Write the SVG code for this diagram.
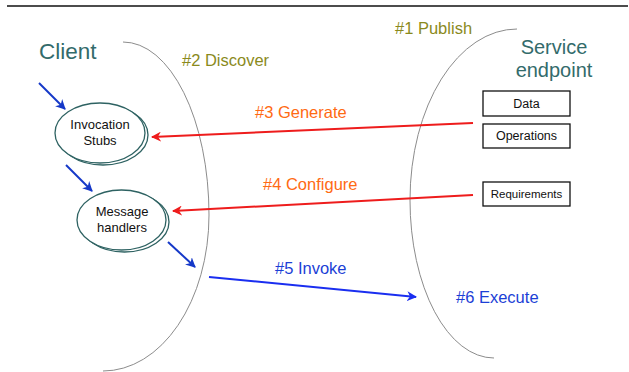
<svg xmlns="http://www.w3.org/2000/svg" width="629" height="372" viewBox="0 0 629 372">
  <style>
    text { font-family: "Liberation Sans", Arial, sans-serif; }
    .title { fill: #336b6b; font-size: 22.5px; }
    .svc { fill: #336b6b; font-size: 20px; text-anchor: middle; }
    .olive { fill: #8a8a1c; font-size: 16.5px; }
    .orange { fill: #ff6a13; font-size: 16.5px; }
    .blue { fill: #1c3fd6; font-size: 16.5px; }
    .node-text { fill: #111; font-size: 13px; text-anchor: middle; }
    .box-text { fill: #111; font-size: 12.5px; text-anchor: middle; }
    .boundary { fill: none; stroke: #8c8c8c; stroke-width: 1; }
    .ring { fill: #fff; stroke: #2e6262; stroke-width: 1.3; }
    .box { fill: #fff; stroke: #111; stroke-width: 1.3; }
    .red { stroke: #ee1c1c; stroke-width: 2; fill: none; }
    .invoke { stroke: #1a2ef0; stroke-width: 2; fill: none; }
    .flow { stroke: #1538c8; stroke-width: 2; fill: none; }
  </style>
  <defs>
    <marker id="head-red" viewBox="0 0 10 10" refX="9" refY="5" markerWidth="5" markerHeight="5" orient="auto" markerUnits="strokeWidth">
      <path d="M0,0 L10,5 L0,10 L3,5 Z" fill="#ee1c1c"/>
    </marker>
    <marker id="head-invoke" viewBox="0 0 10 10" refX="9" refY="5" markerWidth="5" markerHeight="5" orient="auto" markerUnits="strokeWidth">
      <path d="M0,0 L10,5 L0,10 L3,5 Z" fill="#1a2ef0"/>
    </marker>
    <marker id="head-flow" viewBox="0 0 10 10" refX="9" refY="5" markerWidth="5" markerHeight="5" orient="auto" markerUnits="strokeWidth">
      <path d="M0,0 L10,5 L0,10 L3,5 Z" fill="#1538c8"/>
    </marker>
  </defs>

  <!-- header rule -->
  <line x1="7" y1="6" x2="628" y2="6" stroke="#111" stroke-width="1.3"/>

  <!-- client and service boundaries -->
  <g id="boundaries">
    <path class="boundary" d="M123,42 A86,173 0 0 1 209,215 A106,156 0 0 1 103,371"/>
    <path class="boundary" d="M517,29 A107,171 0 0 0 410,200 A84,158 0 0 0 494,358"/>
  </g>

  <!-- side titles -->
  <text class="title" x="39" y="59">Client</text>
  <text class="svc" x="554" y="54">Service</text>
  <text class="svc" x="554" y="77">endpoint</text>

  <!-- step labels -->
  <text class="olive" x="395" y="34">#1 Publish</text>
  <text class="olive" x="182" y="66">#2 Discover</text>
  <text class="orange" x="255" y="118">#3 Generate</text>
  <text class="orange" x="263" y="190">#4 Configure</text>
  <text class="blue" x="275" y="274">#5 Invoke</text>
  <text class="blue" x="456" y="303">#6 Execute</text>

  <!-- client-side nodes -->
  <g id="stubs">
    <ellipse class="ring" cx="103" cy="135" rx="45" ry="30"/>
    <ellipse class="ring" cx="100" cy="133" rx="45" ry="30"/>
    <text class="node-text" x="100" y="129">Invocation</text>
    <text class="node-text" x="100" y="145">Stubs</text>
  </g>
  <g id="handlers">
    <ellipse class="ring" cx="124.5" cy="222" rx="44.5" ry="30"/>
    <ellipse class="ring" cx="121.5" cy="220" rx="44.5" ry="30"/>
    <text class="node-text" x="122" y="216">Message</text>
    <text class="node-text" x="122" y="232">handlers</text>
  </g>

  <!-- service-side boxes -->
  <g id="data">
    <rect class="box" x="483" y="91" width="87" height="25"/>
    <text class="box-text" x="526.5" y="107.5">Data</text>
  </g>
  <g id="operations">
    <rect class="box" x="483" y="124" width="87" height="24"/>
    <text class="box-text" x="526.5" y="140">Operations</text>
  </g>
  <g id="requirements">
    <rect class="box" x="483" y="182" width="87" height="24"/>
    <text class="box-text" x="526.5" y="197.5" style="font-size:11.5px">Requirements</text>
  </g>

  <!-- connectors -->
  <g id="connectors">
    <line class="red" x1="473" y1="123" x2="152" y2="137" marker-end="url(#head-red)"/>
    <line class="red" x1="473" y1="195" x2="173" y2="211" marker-end="url(#head-red)"/>
    <line class="invoke" x1="209" y1="277" x2="416" y2="297" marker-end="url(#head-invoke)"/>
    <line class="flow" x1="39" y1="83" x2="65" y2="109" marker-end="url(#head-flow)"/>
    <line class="flow" x1="66" y1="165" x2="92" y2="191" marker-end="url(#head-flow)"/>
    <line class="flow" x1="168" y1="242" x2="195" y2="267" marker-end="url(#head-flow)"/>
  </g>
</svg>
